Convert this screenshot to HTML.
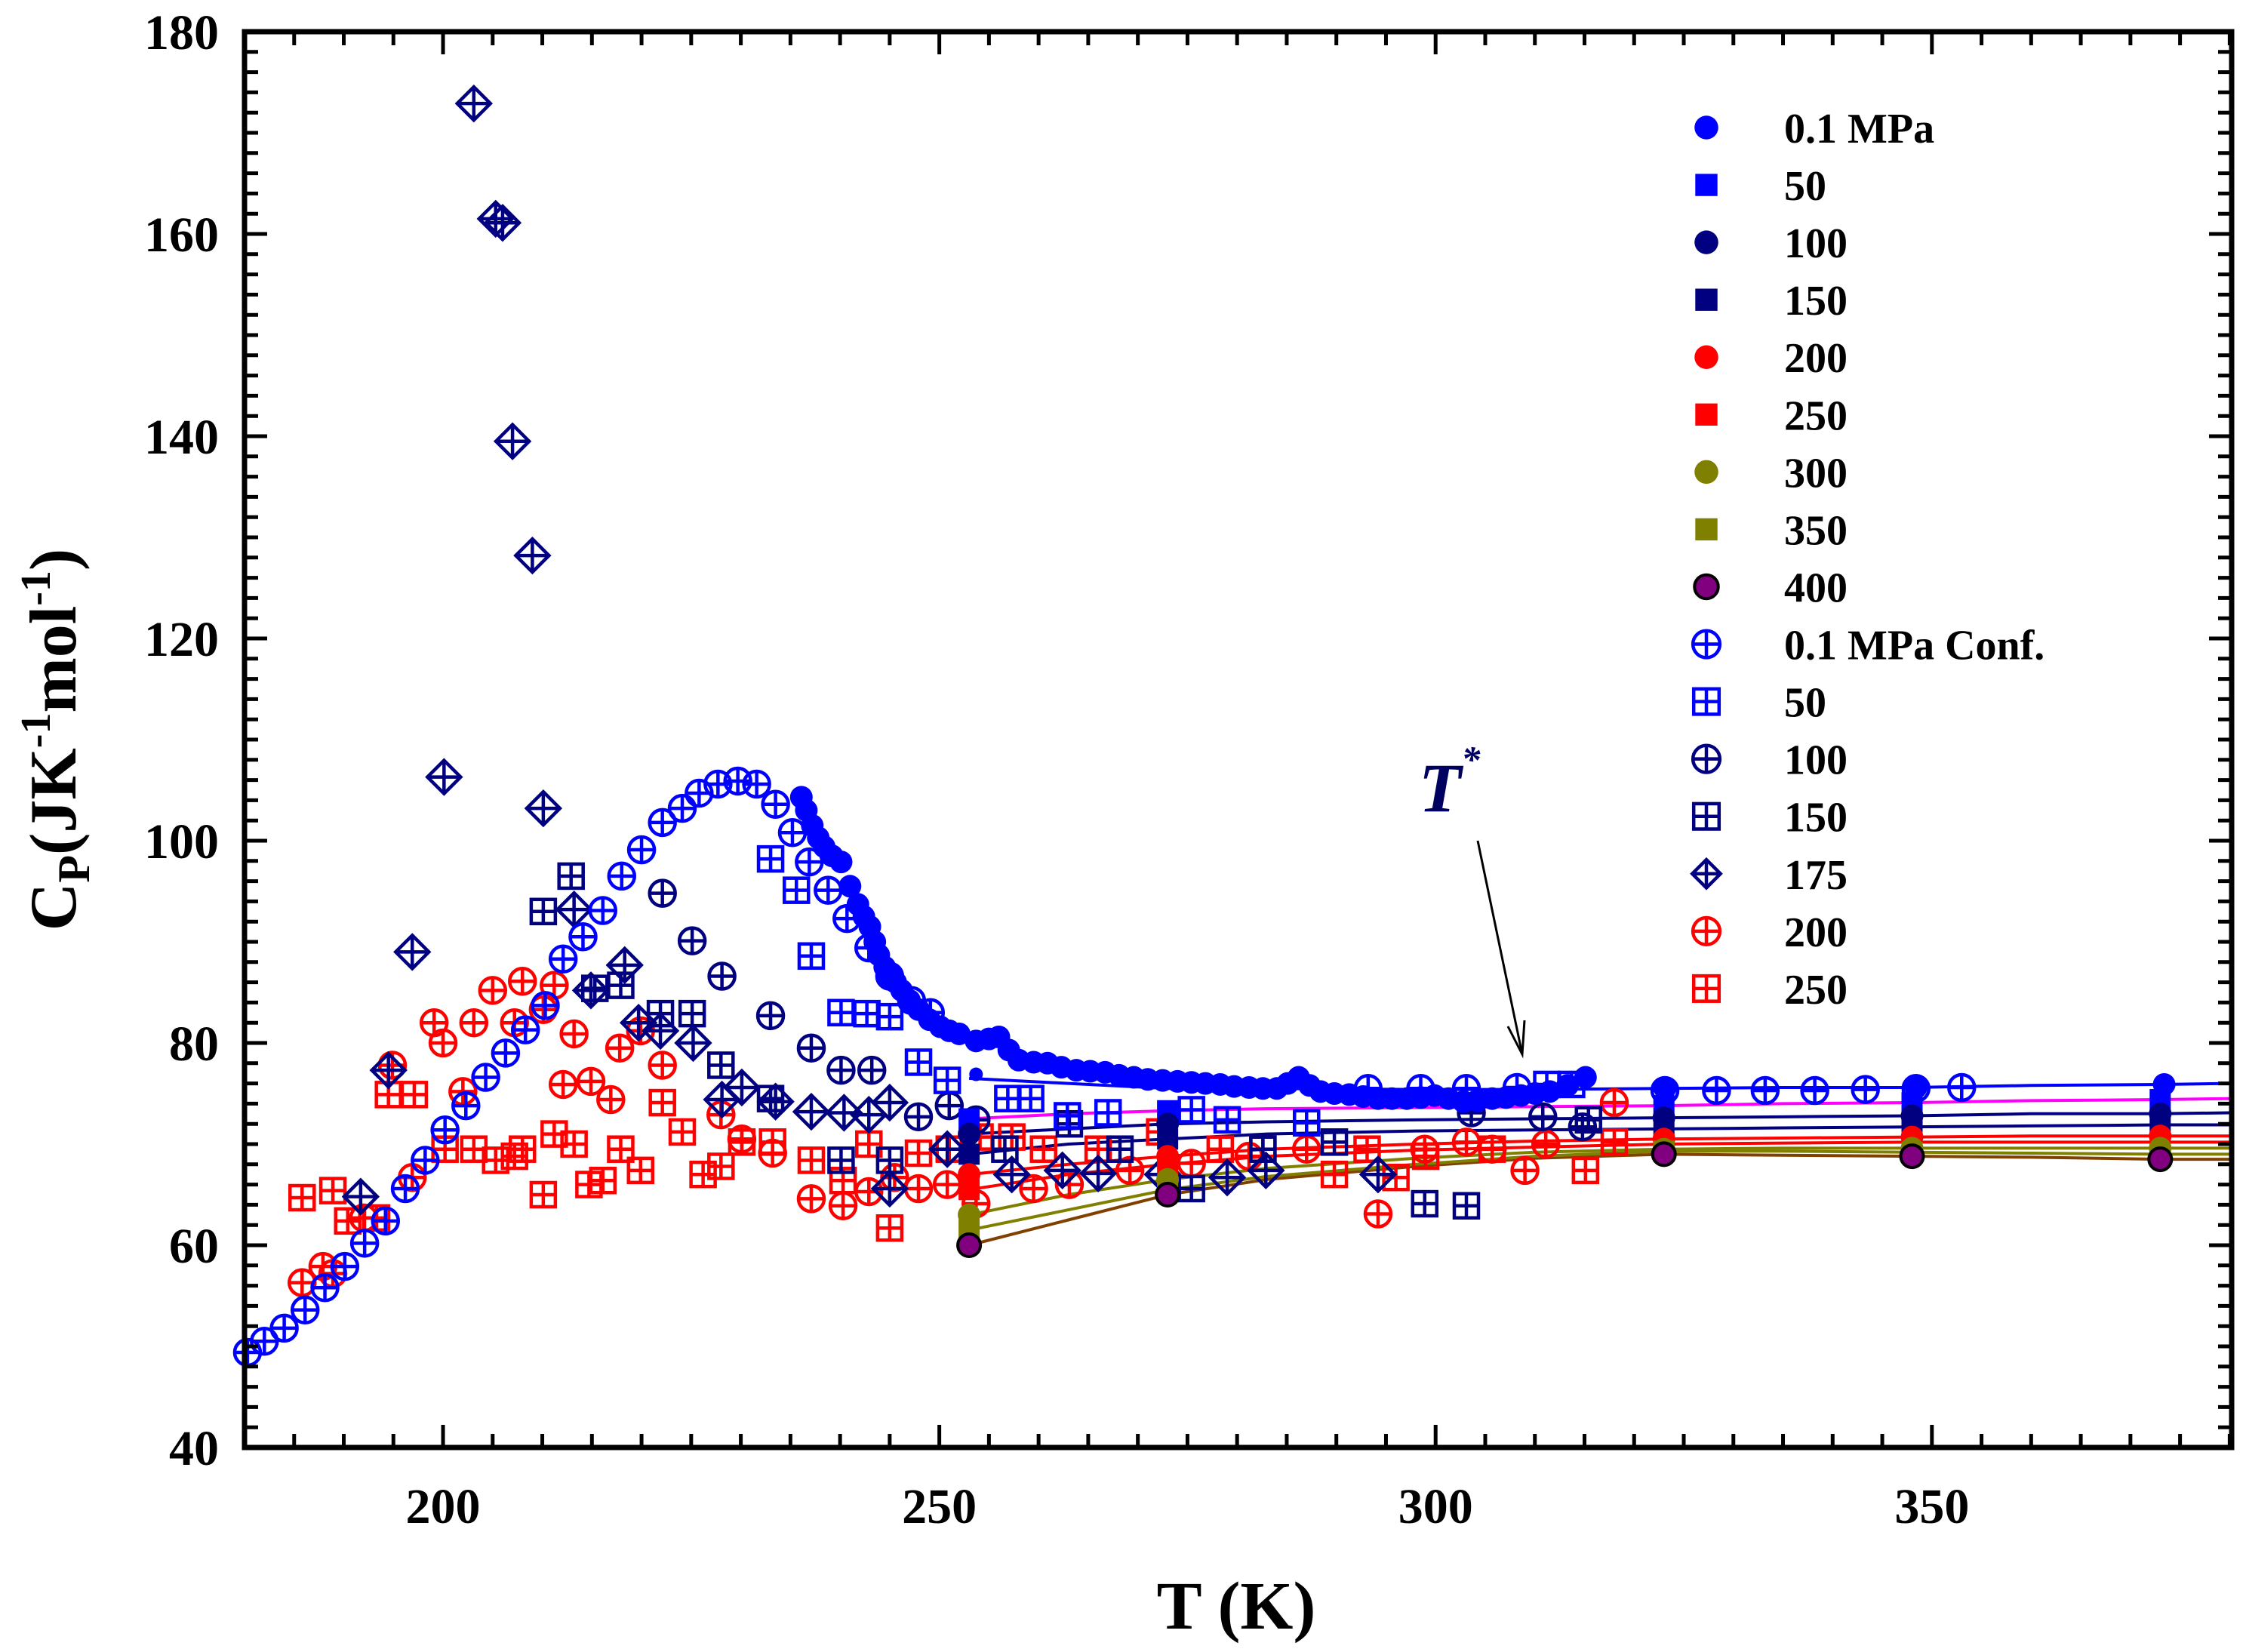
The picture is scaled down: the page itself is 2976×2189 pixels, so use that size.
<!DOCTYPE html>
<html><head><meta charset="utf-8"><style>
html,body{margin:0;padding:0;background:#fff;}
svg{display:block;font-family:"Liberation Serif",serif;font-weight:bold;}
</style></head><body>
<svg id="chart" width="2976" height="2189" viewBox="0 0 2976 2189" xmlns="http://www.w3.org/2000/svg">
<g id="lines"></g>
<g id="marks"></g>
<g id="axes"></g>
<g id="legend"></g>
<text x="1638" y="2158" font-size="90" text-anchor="middle">T (K)</text>
<text transform="translate(100,980) rotate(-90)" font-size="88" text-anchor="middle">C<tspan font-size="60" dy="18">P</tspan><tspan dy="-18">(JK</tspan><tspan font-size="56" dy="-34">-1</tspan><tspan dy="34">mol</tspan><tspan font-size="56" dy="-34">-1</tspan><tspan dy="34">)</tspan></text>
<text x="1880" y="1075" font-size="92" font-style="italic" fill="#000060">T<tspan font-size="50" dy="-52">*</tspan></text>
<g stroke="#000" stroke-width="3" fill="none">
<line x1="1958" y1="1114" x2="2017" y2="1397"/>
<polyline points="1998,1360 2017,1397 2020,1352"/>
</g>
</svg>
<script>
const X0=324,X1=2957,Y0=1918,Y1=42,TMIN=180,TMAX=380.2,CMIN=40,CMAX=180;
function sx(t){return X0+(t-TMIN)/(TMAX-TMIN)*(X1-X0);}
function sy(c){return Y0-(c-CMIN)/(CMAX-CMIN)*(Y0-Y1);}
const NS='http://www.w3.org/2000/svg';
function mk(tag,attrs,parent){const e=document.createElementNS(NS,tag);for(const k in attrs)e.setAttribute(k,attrs[k]);parent.appendChild(e);return e;}

// ---- data ----
const xTicks=[200,250,300,350];
const yTicks=[40,60,80,100,120,140,160,180];
const lineT=[253,263,273,283,298,310,323,335,348,360,373,380];
const p01=[76.5,76,75.5,75.5,75.4,75.4,75.5,75.6,75.6,75.8,75.9,76.0];
const p50=[72.5,73,73.3,73.5,73.6,73.7,73.8,74,74.1,74.3,74.4,74.5];
const p100=[71,71.5,72,72.2,72.4,72.5,72.6,72.7,72.8,73,73,73.1];
const p150=[69,70,70.5,71,71.3,71.4,71.5,71.6,71.7,71.8,71.9,71.9];
const p200=[67,68,68.8,69.5,70,70.3,70.5,70.6,70.7,70.8,70.8,70.8];
const p250=[65.5,67,68,68.8,69.4,69.7,70,70.1,70.2,70.2,70.2,70.2];
const p300=[63,65,66.5,67.6,68.6,69.2,69.5,69.6,69.6,69.6,69.6,69.6];
const p350=[61.5,63.5,65.5,66.8,68,68.8,69.3,69.3,69.2,69.1,69,69];
const p400=[60,62.5,65,66.5,67.8,68.6,69,68.9,68.8,68.7,68.5,68.5];
const markIdx=[0,2,6,8,10];

const exp01T=[236.1,236.6,237.2,237.8,238.4,239.2,240.1,241,241.8,242.4,243.0,243.5,243.9,244.5,245,245.6,246.2,247,247.9,249,250.1,251,252,253.7,253.7,255,256,257,258,259.5,260.9,262.3,263.8,265.2,266.7,268.1,269.6,271,272.5,274,275.4,276.8,278.3,279.7,281.2,282.6,284,285.1,286.2,287.3,288.4,289.8,291.3,292.7,294.2,295.6,297.1,298.5,299.9,301.3,302.8,304.2,305.7,307.1,308.6,310,311.5,313.3,315.1,323.1,348.4,373.4];
const exp01C=[104.3,103,101.5,100.3,99.4,98.5,97.9,95.5,93.7,92.5,91.5,90,88.7,87.5,86.6,86,85.2,84.2,83.3,82.3,81.6,81.2,80.9,80.2,76.9,80.4,80.6,79.3,78.3,78.1,78.0,77.6,77.3,77.2,77.1,76.8,76.6,76.4,76.3,76.2,76.1,76,75.9,75.7,75.6,75.5,75.5,76,76.6,75.8,75.2,75.0,74.9,74.7,74.5,74.5,74.5,74.6,74.8,74.5,74.2,74.3,74.5,74.6,74.8,75,75.2,75.8,76.6,75.5,75.6,75.9];

const c01T=[180.3,182,184,186.1,188.1,190.1,192.1,194.2,196.2,198.2,200.2,202.3,204.3,206.3,208.3,210.3,212.1,214.1,216.1,218,220,222.1,224.1,225.8,227.7,229.7,231.6,233.5,235.2,236.9,238.8,240.7,242.9,245,247.2,249.1,293.2,298.5,303.1,308.2,323.1,328.3,333.2,338.2,343.3,348.4,353];
const c01C=[49.4,50.5,51.8,53.6,55.8,57.9,60.2,62.4,65.6,68.4,71.4,73.8,76.6,79,81.3,83.7,88.3,90.5,93.1,96.5,99.1,101.8,103.2,104.7,105.6,105.9,105.6,103.6,100.8,97.9,95.1,92.3,89.4,86.6,84.2,83,75.5,75.5,75.5,75.6,75.3,75.3,75.3,75.3,75.4,75.5,75.6];
const c50T=[233,235.6,237.1,240.1,242.7,245,247.9,250.8,256.9,259.2,262.9,267,275.4,279,287,311.2,313.7];
const c50C=[98.2,95.1,88.6,83,82.9,82.6,78.1,76.3,74.5,74.5,72.8,73.1,73.4,72.4,72.1,75.9,75.9];
const c100T=[222.1,225.1,228.1,233,237.1,240.1,243.2,247.9,251,253.7,303.6,310.8,314.8];
const c100C=[94.8,90.1,86.6,82.7,79.5,77.3,77.3,72.7,73.8,72.4,73.1,72.7,71.7];
const c150T=[210.1,212.9,215.3,217.9,221.9,225.1,228,233,240.1,245,256.6,263.1,268.2,275.4,282.6,289.8,298.9,303.1,315.4];
const c150C=[93,96.5,85.4,85.7,82.9,82.9,77.8,74.5,68.4,68.4,69.5,72,69.5,65.6,69.5,70.2,64.1,63.9,72.4];
const c175T=[203.1,205.3,206,207,209,200.1,210.1,196.9,213.2,214.9,218.3,219.7,221.9,225.2,228.1,230.1,233.5,237.1,240.4,242.9,245,245,250.8,257.3,262.4,266,272.5,279,282.9,294.2,194.5,191.7];
const c175C=[172.9,161.5,161.1,139.5,128.2,106.3,103.2,89,93.2,85.2,87.7,82,81.2,80,74.4,75.6,74.2,73.2,73.1,72.9,74.1,65.6,69.5,67,67.4,67.1,67,66.7,67.4,67,77.3,64.8];
const c200T=[185.8,187.9,188.9,192,194.9,196.9,199.1,200,202,203.1,205,207.2,208,210.1,211.2,212.1,213.2,214.9,216.9,217.8,219.9,222.1,228,230.1,233.2,237.1,240.3,242.9,245.5,247.9,250.8,253.7,259.5,263.1,269.2,275.4,281.2,287,294.2,298.9,303.1,305.7,309,311.1,318];
const c200C=[56.3,57.9,57.2,62.7,77.8,66.7,82,80,75.2,82,85.2,82,86.1,83.3,85.7,75.9,80.9,76.2,74.4,79.5,81.2,77.8,72.9,70.5,69.1,64.6,63.9,65.3,66.7,65.6,66,64.1,65.6,66,67.4,68.1,68.8,69.5,63.1,69.5,70.2,69.5,67.4,70,74.1];
const c250T=[185.8,188.9,190.4,193.3,194.5,197.1,200.2,203.1,205.3,207.2,208,210.1,211.2,213.2,214.7,216.1,217.9,219.9,222.1,224.1,226.2,228,230.1,233.2,237.1,240.3,242.9,245,247.9,251,254.1,257.3,260.5,266,272.2,278.3,282.6,289.8,293.1,296,299,305.7,315.1,318];
const c250C=[64.7,65.4,62.4,62.7,74.9,74.9,69.5,69.5,68.4,68.8,69.5,65,71,70,66,66.4,69.5,67.4,74.1,71.2,67,67.8,70.2,70.2,68.4,66.4,70,61.7,69.1,69.5,70.7,70.7,69.5,69.5,71.2,69.5,69.5,67,69.5,66.7,68.8,69.5,67.4,70.2];

const BLUE='#0000ff',NAVY='#000080',RED='#ff0000',OLIVE='#808000',PURP='#800080';
const linesG=document.getElementById('lines'),marksG=document.getElementById('marks'),axesG=document.getElementById('axes'),legG=document.getElementById('legend');

function marker(g,type,cx,cy,color,sc){
  sc=sc||1;let e;
  if(type==='fc'){e=mk('circle',{cx:cx,cy:cy,r:15*sc,fill:color},g);}
  else if(type==='fcb'){e=mk('circle',{cx:cx,cy:cy,r:15*sc,fill:color,stroke:'#000','stroke-width':4},g);}
  else if(type==='fs'){const h=14*sc;e=mk('rect',{x:cx-h,y:cy-h,width:2*h,height:2*h,fill:color},g);}
  else if(type==='oc'){const r=17*sc;e=mk('g',{stroke:color,'stroke-width':4.5,fill:'none'},g);
    mk('circle',{cx:cx,cy:cy,r:r},e);mk('line',{x1:cx-r,y1:cy,x2:cx+r,y2:cy},e);mk('line',{x1:cx,y1:cy-r,x2:cx,y2:cy+r},e);}
  else if(type==='os'){const r=16*sc;e=mk('g',{stroke:color,'stroke-width':4.5,fill:'none'},g);
    mk('rect',{x:cx-r,y:cy-r,width:2*r,height:2*r},e);mk('line',{x1:cx-r,y1:cy,x2:cx+r,y2:cy},e);mk('line',{x1:cx,y1:cy-r,x2:cx,y2:cy+r},e);}
  else if(type==='od'){const r=22*sc;e=mk('g',{stroke:color,'stroke-width':4.5,fill:'none'},g);
    mk('polygon',{points:`${cx},${cy-r} ${cx+r},${cy} ${cx},${cy+r} ${cx-r},${cy}`},e);mk('line',{x1:cx-r,y1:cy,x2:cx+r,y2:cy},e);mk('line',{x1:cx,y1:cy-r,x2:cx,y2:cy+r},e);}
  return e;
}

const frame=mk('rect',{x:X0,y:Y1,width:X1-X0,height:Y0-Y1,fill:'none',stroke:'#000','stroke-width':7},axesG);


for(let t=180;t<=380;t+=5){
  const maj=(t%50===0),L=maj?30:18,x=sx(t);
  mk('line',{x1:x,y1:Y0,x2:x,y2:Y0-L,stroke:'#000','stroke-width':5},axesG);
  mk('line',{x1:x,y1:Y1,x2:x,y2:Y1+L,stroke:'#000','stroke-width':5},axesG);
}
for(let c=40;c<=180;c+=2){
  const maj=(c%20===0),L=maj?30:18,y=sy(c);
  mk('line',{x1:X0,y1:y,x2:X0+L,y2:y,stroke:'#000','stroke-width':5},axesG);
  mk('line',{x1:X1,y1:y,x2:X1-L,y2:y,stroke:'#000','stroke-width':5},axesG);
}
xTicks.forEach(t=>{const e=mk('text',{x:sx(t),y:2018,'font-size':66,'text-anchor':'middle'},axesG);e.textContent=t;
  
  });
yTicks.forEach(c=>{const e=mk('text',{x:290,y:sy(c)+23,'font-size':66,'text-anchor':'end'},axesG);e.textContent=c;
  
  });

const lineSets=[[p400,'#804000'],[p350,OLIVE],[p300,OLIVE],[p250,RED],[p200,RED],[p150,NAVY],[p100,NAVY],[p50,'#ff00ff'],[p01,BLUE]];
lineSets.forEach(([v,col])=>{
  const pts=lineT.map((t,i)=>sx(t)+','+sy(v[i])).join(' ');
  const pl=mk('polyline',{points:pts,fill:'none',stroke:col,'stroke-width':4},linesG);
  
  
});

const confSets=[[c250T,c250C,'os',RED],[c200T,c200C,'oc',RED],[c175T,c175C,'od',NAVY],[c150T,c150C,'os',NAVY],[c100T,c100C,'oc',NAVY],[c50T,c50C,'os',BLUE],[c01T,c01C,'oc',BLUE]];
confSets.forEach(([T,C,type,col])=>{
  T.forEach((t,i)=>{const e=marker(marksG,type,sx(t),sy(C[i]),col);
    
    });
});
const expSets=[[p50,'fs',BLUE],[p100,'fc',NAVY],[p150,'fs',NAVY],[p200,'fc',RED],[p250,'fs',RED],[p300,'fc',OLIVE],[p350,'fs',OLIVE],[p400,'fcb',PURP]];
expSets.forEach(([v,type,col])=>{
  markIdx.forEach(i=>{const e=marker(marksG,type,sx(lineT[i]),sy(v[i]),col);
    
    });
});
exp01T.forEach((t,i)=>{const e=marker(marksG,'fc',sx(t),sy(exp01C[i]),BLUE,i===24?0.6:1);
  
  });

const legItems=[['fc',BLUE,'0.1 MPa'],['fs',BLUE,'50'],['fc',NAVY,'100'],['fs',NAVY,'150'],['fc',RED,'200'],['fs',RED,'250'],['fc',OLIVE,'300'],['fs',OLIVE,'350'],['fcb',PURP,'400'],['oc',BLUE,'0.1 MPa Conf.'],['os',BLUE,'50'],['oc',NAVY,'100'],['os',NAVY,'150'],['od',NAVY,'175'],['oc',RED,'200'],['os',RED,'250']];
legItems.forEach(([type,col,lab],i)=>{
  const y=169+76.06*i;
  const g=mk('g',{},legG);
  
  
  marker(g,type,2261,y,col,type==='od'?0.85:1.05);
  const t=mk('text',{x:2364,y:y+20,'font-size':56},g);t.textContent=lab;
});
</script>
</body></html>
